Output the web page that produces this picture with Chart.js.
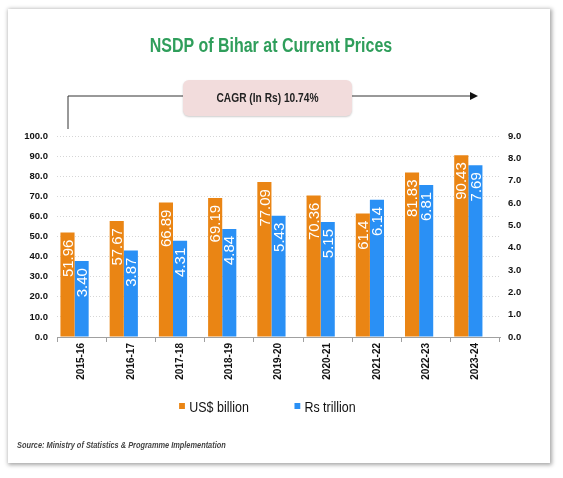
<!doctype html>
<html lang="en">

<head>
    <meta charset="utf-8">
    <title>NSDP of Bihar at Current Prices</title>
    <script src="https://cdn.jsdelivr.net/npm/chart.js@4.4.1/dist/chart.umd.min.js"></script>
    <style>
        html, body { margin: 0; padding: 0; background: #fff; }
        body {
            width: 563px; height: 478px; position: relative; overflow: hidden;
            font-family: "Liberation Sans", Arial, sans-serif;
        }
        .card {
            position: absolute; left: 8px; top: 9px; width: 542px; height: 454px;
            background: #fff; box-shadow: 1px 1px 4px 1px rgba(0, 0, 0, 0.35);
        }
        #myChart { position: absolute; left: 0; top: 0; }
        /* the original uses a narrow face, so squeeze the text a bit */
        .title {
            position: absolute; left: 0; top: 33px; width: 542px; text-align: center;
            color: #2f9e5b; font-weight: bold; font-size: 20px; line-height: 24px;
            transform: scaleX(0.8); transform-origin: 271px 0;
        }
        .cagr {
            position: absolute; left: 183px; top: 80px; width: 169px; height: 36px;
            background: #f2dcdc; border-radius: 6px;
            box-shadow: 0 1px 2px rgba(0, 0, 0, 0.2);
        }
        .cagr span {
            display: block; line-height: 36px; text-align: center;
            font-weight: bold; font-size: 12px; color: #222;
            transform: scaleX(0.85);
        }
        .arrow { position: absolute; left: 0; top: 0; }
        .legend {
            position: absolute; left: 0; top: 398px; width: 535px; height: 16px;
            display: flex; justify-content: center; gap: 55px; font-size: 15px; color: #111;
            transform: scaleX(0.83); transform-origin: 267.5px 0;
        }
        .legend span.item { display: flex; align-items: center; }
        .legend i { display: inline-block; width: 7px; height: 6px; margin-right: 5px; }
        .source {
            position: absolute; left: 17px; top: 440px; white-space: nowrap;
            font-size: 9px; font-weight: bold; font-style: italic; color: #444;
            transform: scaleX(0.82); transform-origin: 0 0;
        }
    </style>
</head>

<body>
    <div class="card"></div>
    <canvas id="myChart" width="563" height="478"></canvas>

    <div class="title">NSDP of Bihar at Current Prices</div>
    <svg class="arrow" width="563" height="140">
        <polyline points="68,129 68,96 183,96" fill="none" stroke="#333" stroke-width="1" />
        <line x1="352" y1="96" x2="471" y2="96" stroke="#333" stroke-width="1" />
        <polygon points="478,96 470,92 470,100" fill="#111" />
    </svg>
    <div class="cagr"><span>CAGR (In Rs) 10.74%</span></div>
    <div class="legend" id="legend"></div>
    <div class="source">Source: Ministry of Statistics &amp; Programme Implementation</div>

    <script>
        // data
        var years = ['2015-16', '2016-17', '2017-18', '2018-19', '2019-20', '2020-21', '2021-22', '2022-23', '2023-24'];
        var usdBillion = [51.96, 57.67, 66.89, 69.19, 77.09, 70.36, 61.4, 81.83, 90.43];
        var rsTrillion = [3.40, 3.87, 4.31, 4.84, 5.43, 5.15, 6.14, 6.81, 7.69];
        // empty series that keeps the third (blank) slot in each group, like the original
        var blankSeries = [null, null, null, null, null, null, null, null, null];
        var leftTicks = ['0.0', '10.0', '20.0', '30.0', '40.0', '50.0', '60.0', '70.0', '80.0', '90.0', '100.0'];
        var rightTicks = ['0.0', '1.0', '2.0', '3.0', '4.0', '5.0', '6.0', '7.0', '8.0', '9.0'];

        var orange = '#ea8514';
        var blue = '#2a90f5';
        var sans = '"Liberation Sans", Arial, sans-serif';

        // white rotated value labels inside the bars
        var barValues = {
            id: 'barValues',
            afterDatasetsDraw: function (chart) {
                var ctx = chart.ctx;
                var texts = [usdBillion.map(function (v) { return String(v); }),
                             rsTrillion.map(function (v) { return v.toFixed(2); })];
                ctx.save();
                ctx.fillStyle = '#fff';
                ctx.font = '15px ' + sans;
                ctx.textAlign = 'right';
                ctx.textBaseline = 'middle';
                [0, 1].forEach(function (d) {
                    chart.getDatasetMeta(d).data.forEach(function (bar, i) {
                        ctx.save();
                        ctx.translate(bar.x, bar.y + 7);
                        ctx.rotate(-Math.PI / 2);
                        ctx.fillText(texts[d][i], 0, 1);
                        ctx.restore();
                    });
                });
                ctx.restore();
            }
        };

        var ctx = document.getElementById('myChart');
        var myChart = new Chart(ctx, {
            type: 'bar',
            data: {
                labels: years,
                datasets: [{
                    label: 'US$ billion',
                    data: usdBillion,
                    backgroundColor: orange,
                    yAxisID: 'y'
                }, {
                    label: 'Rs trillion',
                    data: rsTrillion,
                    backgroundColor: blue,
                    yAxisID: 'y1'
                }, {
                    label: '',
                    data: blankSeries,
                    backgroundColor: 'rgba(0,0,0,0)',
                    yAxisID: 'y1'
                }]
            },
            options: {
                responsive: false,
                animation: false,
                devicePixelRatio: 1,
                layout: { padding: { left: 10, right: 33, top: 136, bottom: 86 } },
                datasets: { bar: { barPercentage: 1, categoryPercentage: 0.86 } },
                plugins: { legend: { display: false }, tooltip: { enabled: false } },
                scales: {
                    x: {
                        grid: { drawOnChartArea: false, drawTicks: true, tickLength: 5, tickColor: '#a0a0a0' },
                        border: { color: '#a0a0a0' },
                        ticks: {
                            minRotation: 90, maxRotation: 90, padding: 1, color: '#111',
                            font: { family: sans, size: 10, weight: 'bold' }
                        },
                        afterFit: function (s) { s.height = 55; }
                    },
                    y: {
                        position: 'left', min: 0, max: 100,
                        ticks: {
                            stepSize: 10, padding: 9, color: '#111',
                            font: { family: sans, size: 9.5, weight: 'bold' },
                            callback: function (v, i) { return leftTicks[i]; }
                        },
                        grid: { color: '#d6d6d6', drawTicks: false },
                        border: { display: false, dash: [1, 2] },
                        afterFit: function (s) { s.width = 47; }
                    },
                    y1: {
                        position: 'right', min: 0, max: 9,
                        ticks: {
                            stepSize: 1, padding: 8, color: '#111',
                            font: { family: sans, size: 9.5, weight: 'bold' },
                            callback: function (v, i) { return rightTicks[i]; }
                        },
                        grid: { drawOnChartArea: false, drawTicks: false },
                        border: { display: false },
                        afterFit: function (s) { s.width = 30; }
                    }
                }
            },
            plugins: [barValues]
        });

        // legend from the two real series
        var legendEl = document.getElementById('legend');
        myChart.data.datasets.slice(0, 2).forEach(function (ds) {
            var item = document.createElement('span');
            item.className = 'item';
            item.innerHTML = '<i style="background:' + ds.backgroundColor + '"></i>' + ds.label;
            legendEl.appendChild(item);
        });
    </script>
</body>

</html>
